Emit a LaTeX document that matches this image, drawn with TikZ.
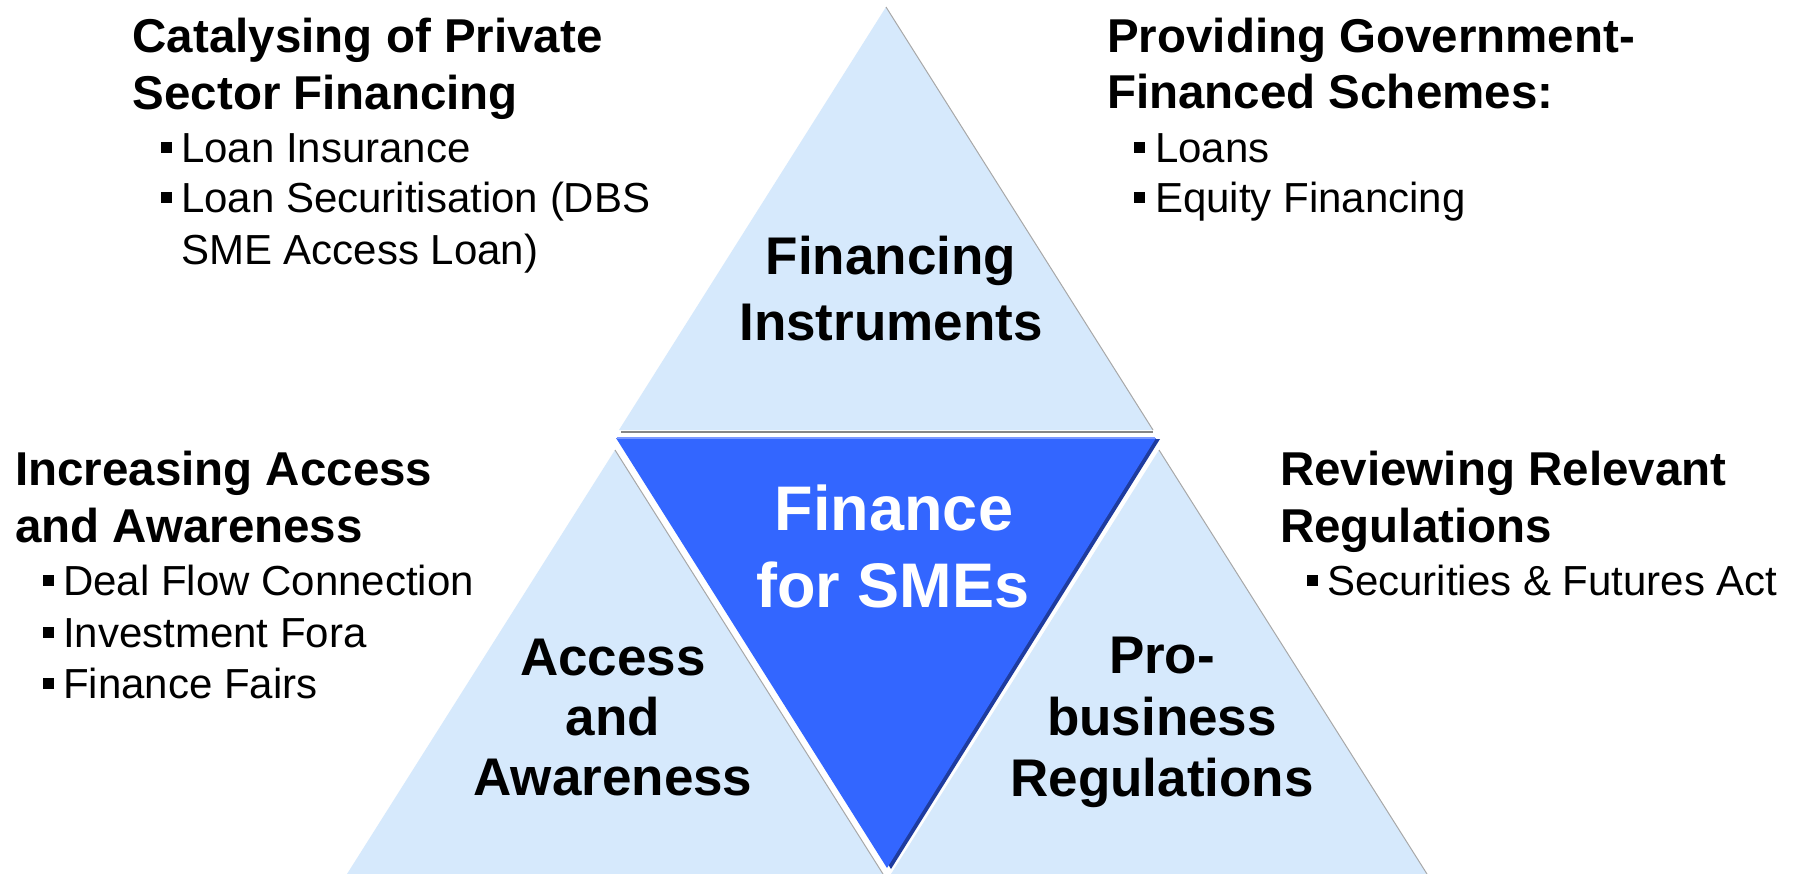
\documentclass[tikz,border=0pt]{standalone}
\usepackage{fontspec}
\setmainfont{Liberation Sans}
\definecolor{lightb}{HTML}{D6E9FC}
\definecolor{midb}{HTML}{3366FF}
\definecolor{darkb}{HTML}{1F3C9E}
\definecolor{topedge}{HTML}{7A98FF}
\definecolor{edgegray}{HTML}{A8A8A8}
\begin{document}
\begin{tikzpicture}[x=1pt,y=-1pt,
  head/.style={anchor=base west, inner sep=0pt, font=\fontsize{47.5}{57}\selectfont\bfseries},
  item/.style={anchor=base west, inner sep=0pt, font=\fontsize{42}{51}\selectfont},
  bul/.style={fill=black, shape=rectangle, minimum size=11pt, inner sep=0pt},
  big/.style={anchor=base, inner sep=0pt, font=\fontsize{53}{61}\selectfont\bfseries},
  core/.style={anchor=base, inner sep=0pt, text=white, font=\fontsize{63}{77}\selectfont\bfseries},
  tri/.style={fill=lightb, draw=none},
  rim/.style={draw=edgegray, line width=1pt}
]
\useasboundingbox (0,0) rectangle (1807,874);
\fill[white] (0,0) rectangle (1807,874);

% light triangles
\coordinate (tA) at (886,7);   \coordinate (tL) at (619,430); \coordinate (tR) at (1153,430);
\coordinate (lA) at (615,450); \coordinate (lL) at (347,874); \coordinate (lR) at (883,874);
\coordinate (rA) at (1159,450);\coordinate (rL) at (891,874); \coordinate (rR) at (1427,874);
\fill[tri] (tA) -- (tL) -- (tR) -- cycle;
\fill[tri] (lA) -- (lL) -- (lR) -- cycle;
\fill[tri] (rA) -- (rL) -- (rR) -- cycle;
\draw[rim] (tA) -- (tR);
\draw[rim] (rA) -- (rR);
\draw[rim] (lA) -- (lR);

% central triangle
\coordinate (cL) at (616,438); \coordinate (cR) at (1156,438); \coordinate (cB) at (887,868);
\draw[white, line width=9pt, line join=miter] (cL) -- (cR) -- (cB) -- cycle;
\draw[edgegray!80!black, line width=2.5pt] (621,432) -- (1153,432);
\fill[darkb] ([xshift=4pt,yshift=-1pt]cL) -- ([xshift=4pt,yshift=-1pt]cR) -- ([xshift=4pt,yshift=-1pt]cB) -- cycle;
\fill[midb] (cL) -- (cR) -- (cB) -- cycle;
\draw[topedge, line width=2pt] ([xshift=1pt]cL) -- ([xshift=-1pt]cR);

% labels in triangles
\node[big] (fi1) at (891,275) {Financing};
\node[big] (fi2) at (891,341) {Instruments};
\node[core] (fs1) at (894,530) {Finance};
\node[core] (fs2) at (893,607) {for SMEs};
\node[big] (aa1) at (613,675) {Access};
\node[big] (aa2) at (613,735) {and};
\node[big] (aa3) at (613,795) {Awareness};
\node[big] (pb1) at (1162,673) {Pro-};
\node[big] (pb2) at (1162,735) {business};
\node[big] (pb3) at (1162,796) {Regulations};

% top-left block
\node[head] (tlh1) at (132.5,53) {Catalysing of Private};
\node[head] (tlh2) at (132.5,110) {Sector Financing};
\node[bul] (tlb1) at (166,148) {};
\node[item] (tli1) at (181,163) {Loan Insurance};
\node[bul] (tlb2) at (166,198) {};
\node[item] (tli2) at (181,213) {Loan Securitisation (DBS};
\node[item] (tli3) at (181,265) {SME Access Loan)};

% top-right block
\node[head] (trh1) at (1107,53) {Providing Government-};
\node[head] (trh2) at (1107,109) {Financed Schemes:};
\node[bul] (trb1) at (1139,148) {};
\node[item] (tri1) at (1155,163) {Loans};
\node[bul] (trb2) at (1139,198) {};
\node[item] (tri2) at (1155,213) {Equity Financing};

% middle-left block
\node[head] (mlh1) at (15,485) {Increasing Access};
\node[head] (mlh2) at (15,542) {and Awareness};
\node[bul] (mlb1) at (48,580) {};
\node[item] (mli1) at (63,595) {Deal Flow Connection};
\node[bul] (mlb2) at (48,632) {};
\node[item] (mli2) at (63,647) {Investment Fora};
\node[bul] (mlb3) at (48,683) {};
\node[item] (mli3) at (63,698) {Finance Fairs};

% middle-right block
\node[head] (mrh1) at (1280,485) {Reviewing Relevant};
\node[head] (mrh2) at (1280,542) {Regulations};
\node[bul] (mrb1) at (1312,580) {};
\node[item] (mri1) at (1327,595) {Securities \& Futures Act};
\end{tikzpicture}
\end{document}
